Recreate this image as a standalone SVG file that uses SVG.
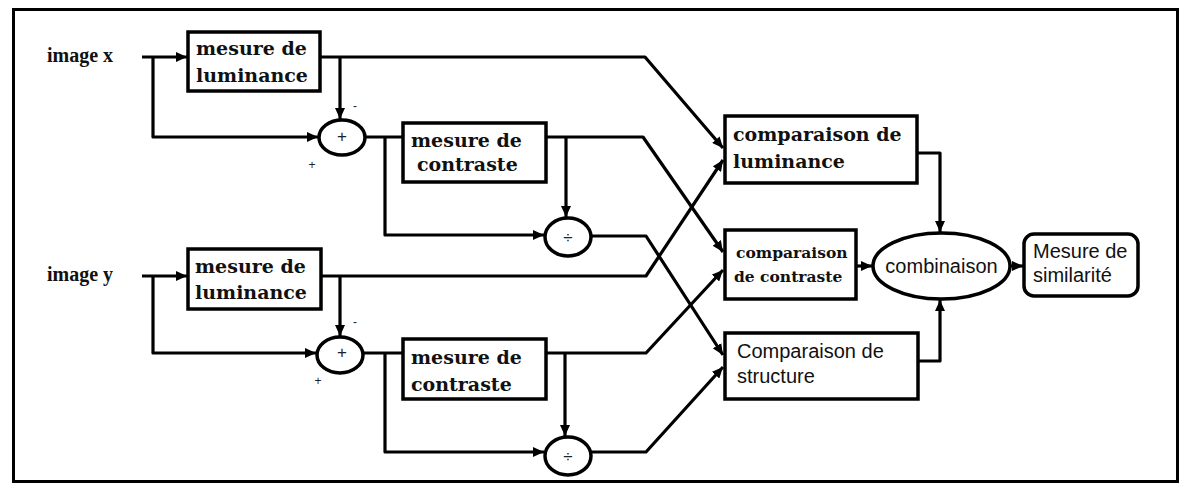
<svg xmlns="http://www.w3.org/2000/svg" width="1183" height="486" viewBox="0 0 1183 486">
<defs>
<marker id="ah" viewBox="0 0 11 10" refX="11" refY="5" markerWidth="11" markerHeight="10" markerUnits="userSpaceOnUse" orient="auto">
<path d="M0,0 L11,5 L0,10 z" fill="#000"/>
</marker>
<style>
.box{fill:#fff;stroke:#000;stroke-width:3.5}
.ser{font-family:"DejaVu Serif","Liberation Serif",serif;font-weight:bold;font-size:19px;fill:#111}
.ser15{font-family:"DejaVu Serif","Liberation Serif",serif;font-weight:bold;font-size:15.5px;fill:#111}
.lbl{font-family:"Liberation Serif","Times New Roman",serif;font-weight:bold;font-size:20px;fill:#111}
.sans{font-family:"Liberation Sans",Arial,sans-serif;font-size:20px;fill:#111}
.sgn{font-family:"Liberation Sans",Arial,sans-serif;font-size:17px;fill:#222}
.sm{font-family:"Liberation Sans",Arial,sans-serif;font-size:12px;fill:#222}
.ln{fill:none;stroke:#000;stroke-width:3.2;stroke-linejoin:round}
.ar{marker-end:url(#ah)}
</style>
</defs>
<rect x="0" y="0" width="1183" height="486" fill="#fff"/>
<rect x="13.5" y="9.5" width="1164" height="472" fill="none" stroke="#000" stroke-width="3"/>

<g id="connectors">
<path class="ln ar" d="M142,57 H187"/>
<path class="ln ar" d="M153,57 V137 H318"/>
<path class="ln ar" d="M340,57 V119"/>
<path class="ln ar" d="M320,57 H645 L723,148"/>
<path class="ln" d="M365,137 H403"/>
<path class="ln ar" d="M385,137 V235 H544"/>
<path class="ln ar" d="M566,137 V217"/>
<path class="ln ar" d="M546,137 H643 L723,252"/>
<path class="ln ar" d="M591,236 H646 L723,355"/>
<path class="ln ar" d="M142,276 H187"/>
<path class="ln ar" d="M153,276 V353 H316"/>
<path class="ln ar" d="M340,276 V336"/>
<path class="ln ar" d="M321,276 H646 L723,160"/>
<path class="ln" d="M363,353 H403"/>
<path class="ln ar" d="M385,353 V452 H544"/>
<path class="ln ar" d="M565,353 V436"/>
<path class="ln ar" d="M546,353 H646 L723,270"/>
<path class="ln ar" d="M591,452 H646 L723,367"/>
<path class="ln ar" d="M917,153 H940 V232"/>
<path class="ln ar" d="M856,266 H872"/>
<path class="ln ar" d="M918,361 H940 V300"/>
<path class="ln ar" d="M1010,266 H1023"/>
</g>

<g id="labels">
<text class="lbl" x="47" y="62">image x</text>
<text class="lbl" x="47" y="281">image y</text>
</g>

<g id="lum-x">
<rect class="box" x="188" y="32" width="132" height="59"/>
<text class="ser" x="196" y="55">mesure de</text>
<text class="ser" x="196" y="82">luminance</text>
</g>

<g id="sum-x">
<ellipse class="box" cx="342" cy="137.5" rx="23" ry="17.5"/>
<text class="sgn" x="342" y="142" text-anchor="middle">+</text>
<text class="sm" x="355" y="110" text-anchor="middle">-</text>
<text class="sm" x="312" y="169" text-anchor="middle">+</text>
</g>

<g id="contrast-x">
<rect class="box" x="403" y="123" width="143" height="59"/>
<text class="ser" x="411" y="147">mesure de</text>
<text class="ser" x="417" y="171">contraste</text>
</g>

<g id="div-x">
<ellipse class="box" cx="568" cy="237" rx="23" ry="19"/>
<text class="sgn" x="568" y="243" text-anchor="middle">÷</text>
</g>

<g id="lum-y">
<rect class="box" x="188" y="249" width="133" height="60"/>
<text class="ser" x="195" y="273">mesure de</text>
<text class="ser" x="195" y="299">luminance</text>
</g>

<g id="sum-y">
<ellipse class="box" cx="340" cy="355" rx="23" ry="18"/>
<text class="sgn" x="342" y="358" text-anchor="middle">+</text>
<text class="sm" x="355" y="326" text-anchor="middle">-</text>
<text class="sm" x="318" y="385" text-anchor="middle">+</text>
</g>

<g id="contrast-y">
<rect class="box" x="403" y="339" width="143" height="60"/>
<text class="ser" x="411" y="364">mesure de</text>
<text class="ser" x="411" y="391">contraste</text>
</g>

<g id="div-y">
<ellipse class="box" cx="568" cy="456" rx="23" ry="19"/>
<text class="sgn" x="568" y="462" text-anchor="middle">÷</text>
</g>

<g id="comp-lum">
<rect class="box" x="725" y="116" width="192" height="67"/>
<text class="ser" x="733" y="141">comparaison de</text>
<text class="ser" x="733" y="168">luminance</text>
</g>

<g id="comp-contrast">
<rect class="box" x="725" y="230" width="131" height="69"/>
<text class="ser15" x="736" y="258">comparaison</text>
<text class="ser15" x="734" y="282">de contraste</text>
</g>

<g id="comp-structure">
<rect class="box" x="725" y="333" width="193" height="66"/>
<text class="sans" x="737" y="358">Comparaison de</text>
<text class="sans" x="737" y="383">structure</text>
</g>

<g id="combinaison">
<ellipse class="box" cx="941.5" cy="266" rx="68.5" ry="33"/>
<text class="sans" x="941.5" y="273" text-anchor="middle">combinaison</text>
</g>

<g id="similarite">
<rect class="box" x="1024" y="234" width="114" height="62" rx="10"/>
<text class="sans" x="1033" y="258">Mesure de</text>
<text class="sans" x="1033" y="282">similarité</text>
</g>
</svg>
